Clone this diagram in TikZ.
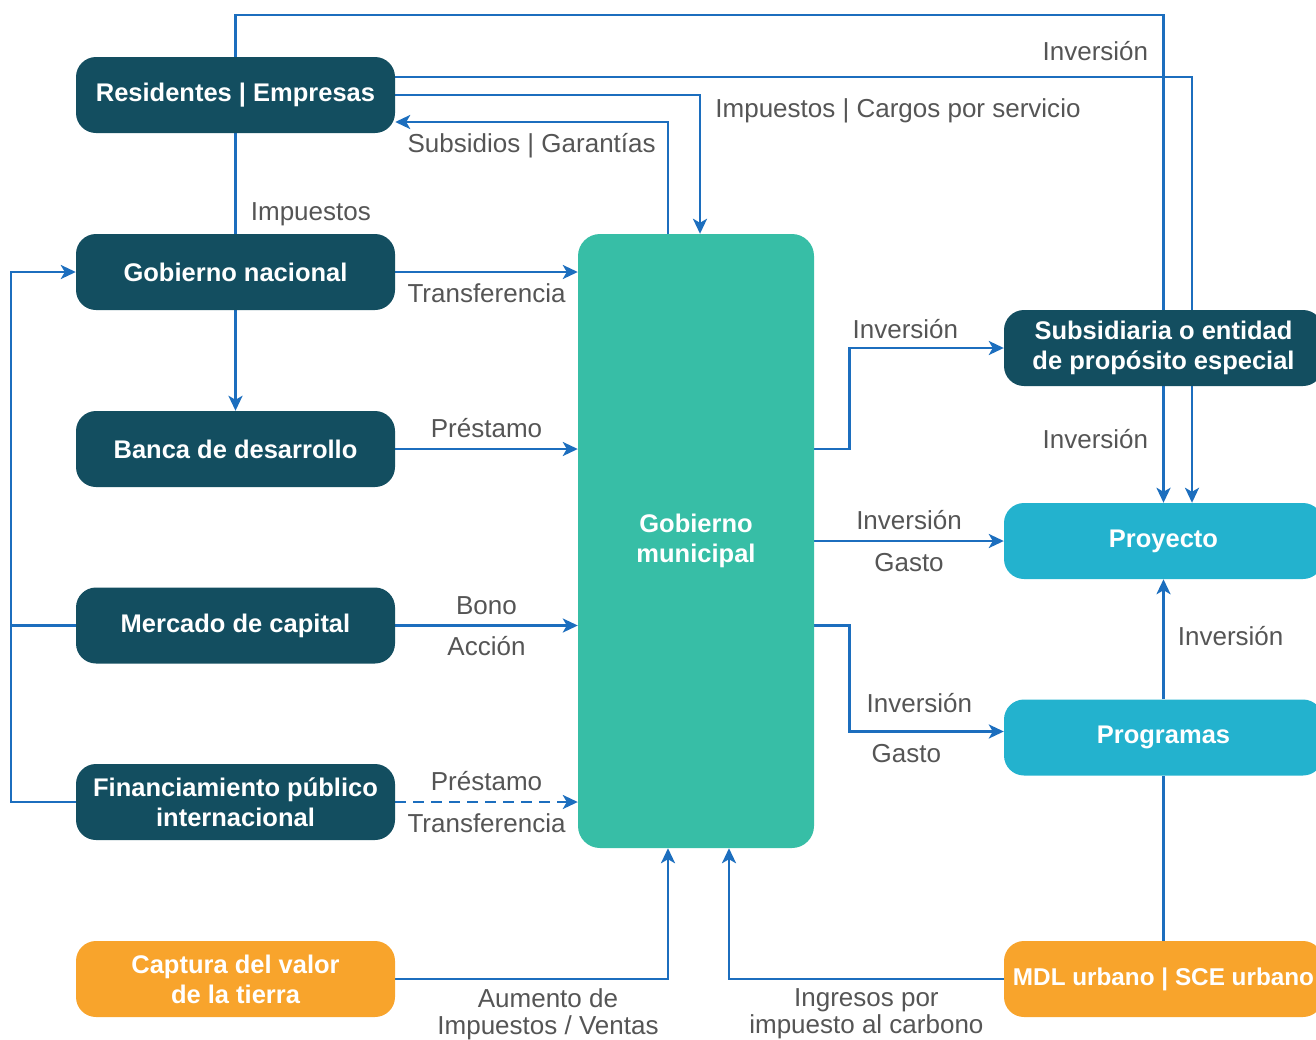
\documentclass[tikz,border=0pt]{standalone}
\usepackage{fontspec}
\setmainfont{Liberation Sans}
\usepackage{tikz}
\usetikzlibrary{arrows.meta}
\usetikzlibrary{backgrounds}

\definecolor{deepteal}{RGB}{19,78,96}
\definecolor{cityteal}{RGB}{55,190,166}
\definecolor{skyblue}{RGB}{35,178,206}
\definecolor{sunorange}{RGB}{248,164,44}
\definecolor{flowblue}{RGB}{28,110,190}
\definecolor{tagtext}{RGB}{85,85,85}

\begin{document}
\begin{tikzpicture}[
    x=1pt, y=-1pt,
    >={Stealth[length=15pt, width=14pt, inset=4pt]},
    every node/.style={font=\fontsize{26}{30}\selectfont},
    entity/.style={fill=deepteal, rounded corners=20pt, minimum width=319pt, minimum height=76pt, inner sep=0pt, text=white, align=center, font=\fontsize{25.5}{30}\selectfont\bfseries},
    city/.style={entity, fill=cityteal, minimum width=236pt, minimum height=614pt, rounded corners=22pt},
    target/.style={entity, fill=skyblue},
    source/.style={entity, fill=sunorange},
    flow/.style={draw=flowblue, line width=2.8pt},
    tag/.style={text=tagtext, inner sep=2pt, text height=19pt, text depth=6pt},
    tags/.style={text=tagtext, inner sep=2pt, align=center, font=\fontsize{26}{27}\selectfont}
]
\useasboundingbox (0,0) rectangle (1316,1039);
\clip (0,0) rectangle (1316,1039);

\node[entity] (res) at (235.5,95) {Residentes | Empresas};
\node[entity] (gobnac) at (235.5,272) {Gobierno nacional};
\node[entity] (banca) at (235.5,449) {Banca de desarrollo};
\node[entity] (mercado) at (235.5,625.5) {Mercado de capital};
\node[entity] (fpi) at (235.5,802) {Financiamiento público\\internacional};
\node[source] (captura) at (235.5,979) {Captura del valor\\de la tierra};

\node[city] (muni) at (696,541) {Gobierno\\municipal};

\node[entity] (sub) at (1163.5,348) {Subsidiaria o entidad\\de propósito especial};
\node[target] (proy) at (1163.5,541) {Proyecto};
\node[target] (prog) at (1163.5,737.5) {Programas};
\node[source, font=\fontsize{24.3}{30}\selectfont\bfseries] (mdl) at (1163.5,979) {MDL urbano | SCE urbano};

\coordinate (topA) at (1163.5,15);
\coordinate (loopL) at (11,802);

\begin{scope}[on background layer]
\draw[flow, ->] (res.north) |- (topA) -- node[tag, pos=0.08, left=12pt] {Inversión} node[tag, pos=0.875, left=12pt] {Inversión} (proy.north);
\draw[flow, ->] ([yshift=18pt]res.east) -| ([xshift=28.5pt]proy.north);
\draw[flow, ->] (res.east) -| node[tag, pos=0.5, anchor=north west, xshift=12pt] {Impuestos | Cargos por servicio} ([xshift=4pt]muni.north);
\draw[flow, ->] ([xshift=-28pt]muni.north) |- node[tag, pos=0.75, below=8pt] {Subsidios | Garantías} ([yshift=-27pt]res.east);

\draw[flow] (res.south) -- node[tag, pos=0.8, right=12pt] {Impuestos} (gobnac.north);
\draw[flow, ->] (gobnac.south) -- (banca.north);

\draw[flow, ->] (gobnac.east) -- node[tag, below=8pt] {Transferencia} (gobnac.east -| muni.west);
\draw[flow, ->] (banca.east) -- node[tag, above=2pt] {Préstamo} (banca.east -| muni.west);
\draw[flow, ->] (mercado.east) -- node[tag, above=2pt] {Bono} node[tag, below=8pt] {Acción} (mercado.east -| muni.west);
\draw[flow, ->, dash pattern=on 11pt off 7pt] (fpi.east) -- node[tag, above=2pt] {Préstamo} node[tag, below=8pt] {Transferencia} (fpi.east -| muni.west);

\draw[flow] (mercado.west) -- (mercado.west -| loopL);
\draw[flow, ->] (fpi.west) -- (loopL) |- (gobnac.west);

\draw[flow, ->] (captura.east) -| node[tags, pos=0.28, below=6pt] {Aumento de\\Impuestos / Ventas} ([xshift=-28pt]muni.south);
\draw[flow, ->] (mdl.west) -| node[tags, pos=0.25, below=6pt] {Ingresos por\\impuesto al carbono} ([xshift=33pt]muni.south);

\draw[flow, ->] (muni.east |- banca.east) -- ++(35,0) |- node[tag, pos=0.5, anchor=south west] {Inversión} (sub.west);
\draw[flow, ->] (muni.east) -- node[tag, above=2pt] {Inversión} node[tag, below=8pt] {Gasto} (proy.west);
\draw[flow, ->] (muni.east |- mercado.east) -- ++(35,0) |- node[tag, pos=0.5, anchor=south west, xshift=14pt, yshift=10pt] {Inversión} node[tag, pos=0.5, anchor=north west, xshift=19pt, yshift=-9pt] {Gasto} ([yshift=6pt]prog.west);

\draw[flow] (mdl.north) -- (prog.south);
\draw[flow, ->] (prog.north) -- node[tag, right=11pt] {Inversión} (proy.south);
\end{scope}
\end{tikzpicture}
\end{document}
